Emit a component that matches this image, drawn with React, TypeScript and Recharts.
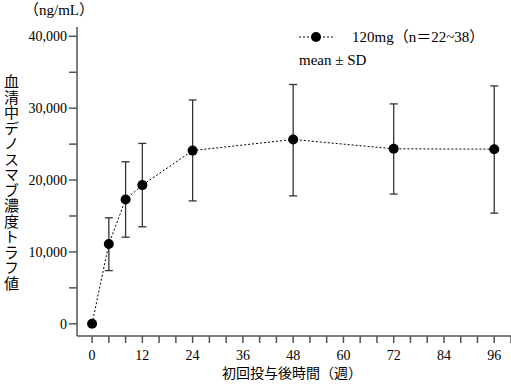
import React from 'react'
import { ComposedChart, Line, XAxis, YAxis, ErrorBar } from 'recharts'

const weeks = [0, 4, 8, 12, 24, 48, 72, 96]
const meanConc = [0, 11100, 17300, 19300, 24100, 25650, 24350, 24300]
const sdLower = [0, 7400, 12050, 13500, 17100, 17800, 18050, 15400]
const sdUpper = [0, 14750, 22550, 25100, 31150, 33300, 30600, 33100]

const xTicks = [0, 4, 8, 12, 16, 20, 24, 28, 32, 36, 40, 44, 48, 52, 56, 60, 64, 68, 72, 76, 80, 84, 88, 92, 96, 100]
const yTicks = [0, 5000, 10000, 15000, 20000, 25000, 30000, 35000, 40000]

const data = weeks.map((w, i) => ({
    week: w,
    mean: meanConc[i],
    // week 0 has no spread
    sd: sdUpper[i] === sdLower[i] ? null : [meanConc[i] - sdLower[i], sdUpper[i] - meanConc[i]],
}))

const serif = '"Liberation Serif", "Noto Sans CJK JP", serif'
const axisColor = '#555'

export default function App() {
    return (
        <div style={{ position: 'absolute', left: 0, top: 0, width: 511, height: 388, background: '#fff', fontFamily: serif, color: '#000' }}>
            <ComposedChart width={511} height={388} data={data} margin={{ top: 27, right: 0, bottom: 0, left: 0 }}>
                <XAxis
                    dataKey="week"
                    type="number"
                    domain={[-3.6, 100]}
                    allowDataOverflow
                    ticks={xTicks}
                    interval={0}
                    tickFormatter={(v: number) => (v % 12 === 0 && v <= 96 ? String(v) : '')}
                    tick={{ fontSize: 14, fill: '#000', fontFamily: serif }}
                    tickSize={7}
                    tickMargin={7}
                    height={52}
                    stroke={axisColor}
                    strokeWidth={1.5}
                />
                <YAxis
                    type="number"
                    domain={[-1700, 41300]}
                    allowDataOverflow
                    ticks={yTicks}
                    interval={0}
                    tickFormatter={(v: number) => (v % 10000 === 0 ? v.toLocaleString('en-US') : '')}
                    tick={{ fontSize: 14, fill: '#000', fontFamily: serif }}
                    tickSize={8}
                    tickMargin={2}
                    width={77}
                    stroke={axisColor}
                    strokeWidth={1.5}
                />
                <Line
                    type="linear"
                    dataKey="mean"
                    stroke="#000"
                    strokeWidth={1}
                    strokeDasharray="2 2"
                    dot={{ r: 5, fill: '#000', stroke: '#000', strokeWidth: 0 }}
                    activeDot={false}
                    isAnimationActive={false}
                >
                    <ErrorBar dataKey="sd" width={4} stroke="#333" strokeWidth={1.3} direction="y" />
                </Line>
            </ComposedChart>

            <div style={{ position: 'absolute', left: 24, top: 0, fontSize: 15, lineHeight: '20px', whiteSpace: 'nowrap' }}>（ng/mL）</div>

            <div style={{ position: 'absolute', left: 2, top: 74, fontSize: 15, lineHeight: '16px', writingMode: 'vertical-rl', letterSpacing: 0.5 }}>
                血清中デノスマブ濃度トラフ値
            </div>

            <div style={{ position: 'absolute', left: 222, top: 365, fontSize: 14, lineHeight: '18px', whiteSpace: 'nowrap' }}>初回投与後時間（週）</div>

            <svg style={{ position: 'absolute', left: 296, top: 28 }} width={40} height={20}>
                <line x1={3} y1={9} x2={37} y2={9} stroke="#000" strokeWidth={1} strokeDasharray="2 2" />
                <circle cx={20} cy={9} r={5} fill="#000" />
            </svg>
            <div style={{ position: 'absolute', left: 352, top: 28, fontSize: 15, lineHeight: '18px', whiteSpace: 'nowrap' }}>120mg（n＝22~38）</div>
            <div style={{ position: 'absolute', left: 299, top: 51, fontSize: 15, lineHeight: '18px', whiteSpace: 'nowrap' }}>mean ± SD</div>
        </div>
    )
}
